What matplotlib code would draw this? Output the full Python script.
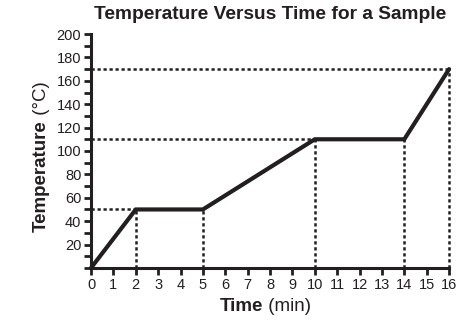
import matplotlib
matplotlib.use("Agg")
import matplotlib.pyplot as plt
from matplotlib.ticker import MultipleLocator

plt.rcParams['font.family'] = ['Liberation Sans', 'DejaVu Sans']

# Heating curve data
time_min = [0, 2, 5, 10, 14, 16]
temp_c = [0, 50, 50, 110, 110, 170]
# Points marked by reference guides
guide_t = [2, 5, 10, 14, 16]
guide_T = [50, 50, 110, 110, 170]
x_ticks = list(range(0, 17))
y_ticks = list(range(20, 201, 20))

ink = '#231f20'
dot = dict(color=ink, lw=1.8, ls=(0, (1.3, 1.1)), zorder=2, clip_on=False)

fig = plt.figure(figsize=(4.62, 3.24), dpi=100)
ax = fig.add_axes([0.197, 0.173, 0.775, 0.722])

ax.set_xlim(0, 16)
ax.set_ylim(0, 200)

# Dotted guide lines: down to the time axis, across to the temperature axis
for t, T in zip(guide_t, guide_T):
    ax.plot([t, t], [0, T], **dot)
for T in sorted(set(guide_T)):
    t0 = min(tt for tt, TT in zip(guide_t, guide_T) if TT == T)
    ax.plot([0, t0], [T, T], **dot)

ax.plot(time_min, temp_c, color=ink, lw=3, solid_capstyle='round',
        solid_joinstyle='miter', zorder=3, clip_on=False)

for s in ['top', 'right']:
    ax.spines[s].set_visible(False)
for s in ['left', 'bottom']:
    ax.spines[s].set_linewidth(2.2)
    ax.spines[s].set_color(ink)

ax.set_xticks(x_ticks)
ax.set_yticks(y_ticks)
ax.yaxis.set_minor_locator(MultipleLocator(10))
ax.tick_params(axis='both', which='both', direction='out', length=5,
               width=2, color=ink, labelsize=10.5, labelcolor=ink, pad=2)

ax.set_title('Temperature Versus Time for a Sample', fontsize=13.8,
             fontweight='bold', color=ink, pad=11)

# Axis labels with bold name and regular units
fs = 13.5
fig.text(0.57, 0.04, 'Time', fontsize=fs, fontweight='bold',
         color=ink, ha='right', va='baseline')
fig.text(0.57, 0.04, ' (min)', fontsize=fs, color=ink,
         ha='left', va='baseline')

yl = fig.text(0.1, 0.285, 'Temperature', fontsize=fs, fontweight='bold',
              color=ink, rotation=90, ha='left', va='baseline',
              rotation_mode='anchor')
fig.canvas.draw()
bb = yl.get_window_extent(fig.canvas.get_renderer())
y_top = bb.y1 / fig.bbox.height
fig.text(0.1, y_top, ' (°C)', fontsize=fs, color=ink, rotation=90,
         ha='left', va='baseline', rotation_mode='anchor')

fig.savefig('out.png', dpi=100)
